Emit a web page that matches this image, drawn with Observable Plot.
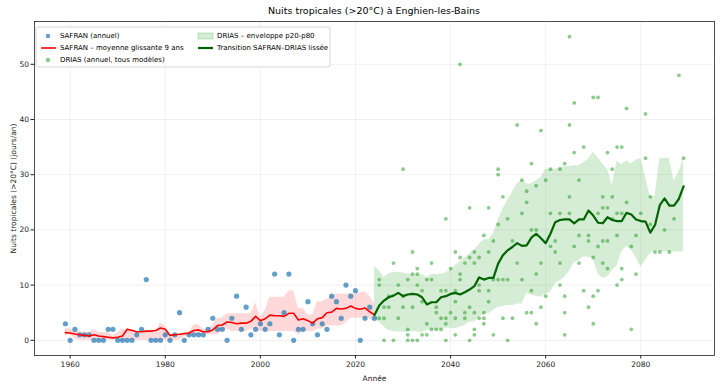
<!DOCTYPE html>
<html><head><meta charset="utf-8">
<script src="https://cdn.jsdelivr.net/npm/d3@7"></script>
<script src="https://cdn.jsdelivr.net/npm/@observablehq/plot@0.6"></script>
<style>
body{margin:0;background:#fff;}
#chart{position:relative;width:720px;height:387px;}
</style></head><body><div id="chart"></div>
<script>
// ---------- DATA ----------
const safranStart = 1959;
const safranValues = [3,0,2,1,1,1,0,0,0,2, 2,0,0,0,0,1,2,11,0,0, 0,1,0,1,5,0,1,1,1,1,
  2,4,2,2,0,4,8,2,6,1, 2,3,2,3,12,1,5,12,0,2, 2,7,3,1,3,2,8,7,4,10, 8,9,0,4,6,4];
// SAFRAN 9-year moving average (as drawn)
const safranMean = [1.4,1.33,1.14,1.0,0.89,0.78,1.0,0.78,0.67,0.56, 0.44,0.56,0.78,2.0,1.78,1.56,1.56,1.67,1.67,1.78,
  2.22,2.0,0.89,1.0,1.11,1.22,1.33,1.78,1.89,1.56, 1.56,1.89,2.67,2.78,3.33,3.22,3.0,3.11,3.11,3.44,
  4.33,3.56,3.89,4.56,4.44,4.44,4.33,4.89,4.89,3.67, 3.89,3.56,3.11,3.89,4.11,5.0,5.11,5.78,5.67,5.78,
  6.22,5.78,5.63,5.86,5.17,4.6];
const safranLow = [0.8,1,0.2,0,0,0,0,0,0,0, 0,0,0,0,0,0,0,0,0,0, 0,0,0,0,0,0.6,0.6,1,1,1,
  1,1,1,1.6,2,1.6,1.6,1.6,1.6,2, 2,1.6,1.6,1.6,1.6,1.6,1.6,1.6,1.6,1, 1.6,1.6,1.6,2,2,2.6,2.6,2.6,2.6,3.2,
  4,4,4,4,4,3.2];
const safranHigh = [2.2,2,1.8,1.6,1.4,1.4,2.0,1.4,1.4,1.4, 0.8,1.4,2.0,2.0,2.0,1.4,1.4,1.4,1.4,1.4,
  3.2,2.6,1,1,1,1,1.4,2.8,2.8,2.0, 2.0,2.8,4.0,4.0,4.8,4.8,4.8,4.8,4.8,4.8,
  6.8,4.2,5.4,7.8,7.8,7.8,7.8,9.0,9.0,5.8, 5.8,4.6,4.6,7,7,7.4,8,8.4,8.4,8.4, 8.4,8.4,8.6,8.8,8,6.6];

const driasStart = 2025;
const driasValues = [
  [11,10,4],[6,4,0],[8,6],[14,0],[10,4],[31,8,6],[11,2,1,0],[16,12,6,0],[13,12,10,0],[9,7,1],
  [11,3,1],[14,11,2],[6,5,2],[9,4,2],[22,9,4,3,0],[13,5],[16,9,7,4,1],[50,15,12,11],[14,5,4],[24,15,6,0],
  [16,14,5,2,1],[15,10,9,4],[19,5,4,3],[24,16,9,7],[18,11,1],[31,30,21,11],[26,11,4],[22,11,0],[18,4],[39,14],
  [29,23,11],[27,25,5],[32,20,9,5],[28,20,12,3],[38,14,6],[29,8],[31,23,17],[18,16],[31,23,14,10],[32,8,5,1],
  [55,39,26,23],[43,34,17],[29,19,14],[35,9],[19,18,6],[44,15,8,3],[44,23,17,9],[26,24,18,14],[34,24,18,13],[31,26,22],
  [35,23,19,10],[35,23,13,11],[42,25],[17,2],[19,12],[23],[41,33],[26,21],[16],[16],
  [20],[16],[22],[48],[33]
];

const bandStart = 2024;
const driasP20 = [3.8,3.3,2.4,1.8,1.6,1.5,1.5,1.4,1.6,1.5, 1.4,1.8,1.9,1.9,2.0,2.2,2.2,2.1,2.4,2.7,
  3.3,3.3,4.2,4.8,4.8,5.4,6.0,6.1,6.3,6.3, 6.6,6.6,8.5,8.2,8.0,7.8,8.3,8.7,10.2,10.8,
  11.4,12.5,14.0,14.5,15.1,15.0,14.8,12.0,11.2,11.5, 12.5,13.5,16.0,17.0,16.3,15.0,13.3,14.5,15.7,16.3,
  16.0,16.0,16.0,16.0,16.0,16.0];
const driasP80 = [13.3,12.7,11.4,12.0,12.3,12.3,12.2,12.0,11.9,11.9, 11.9,11.4,11.9,11.9,11.9,12.2,12.8,13.6,14.2,14.9,
  15.7,16.4,17.3,18.2,18.2,19.3,21.7,23.8,25.3,26.8, 28.3,29.0,28.3,28.3,28.9,29.5,31.0,31.0,31.0,31.3,
  31.4,31.5,31.6,31.6,32.2,32.8,34.0,33.1,31.9,31.0, 28.0,32.5,31.8,32.5,32.0,32.6,33.0,29.5,26.0,26.0,
  33.0,33.0,33.0,28.9,30.4,33.0];
const transition = [4.6,6.3,7.2,7.8,8.1,8.6,8.0,8.3,8.4,8.3, 7.8,6.5,6.9,6.9,7.8,8.0,8.4,8.6,8.3,8.7,
  9.2,9.8,11.4,11.0,11.3,11.3,13.9,15.4,16.3,16.9, 17.6,17.1,17.2,18.6,19.3,18.5,17.6,19.3,21.4,21.8,
  21.9,21.9,21.2,21.9,21.9,23.5,22.6,21.3,21.2,22.3, 21.8,21.6,21.6,23.1,22.8,21.9,21.6,21.5,19.5,20.9,
  24.5,25.7,24.4,24.4,25.6,27.9];

const xTicks = [1960,1980,2000,2020,2040,2060,2080];
const yTicks = [0,10,20,30,40,50];
const titleText = "Nuits tropicales (>20°C) à Enghien-les-Bains";
const xLabel = "Année";
const yLabel = "Nuits tropicales (>20°C) (jours/an)";
const legendItems = [
  {label:"SAFRAN (annuel)", kind:"dot", color:"#1f77b4", op:0.7, col:0, row:0},
  {label:"SAFRAN – moyenne glissante 9 ans", kind:"line", color:"red", op:1, col:0, row:1},
  {label:"DRIAS (annuel, tous modèles)", kind:"dot", color:"#2ca02c", op:0.55, col:0, row:2},
  {label:"DRIAS – enveloppe p20-p80", kind:"patch", color:"#2ca02c", op:0.2, col:1, row:0},
  {label:"Transition SAFRAN–DRIAS lissée", kind:"line", color:"darkgreen", op:1, col:1, row:1, w:2.2}
];

// ---------- TABLES ----------
const safran = safranValues.map((v,i)=>({year:safranStart+i, v, m:safranMean[i], lo:safranLow[i], hi:safranHigh[i]}));
const drias = driasValues.flatMap((vals,i)=>vals.map(v=>({year:driasStart+i, v})));
const band = driasP20.map((lo,i)=>({year:bandStart+i, lo, hi:driasP80[i], t:transition[i]}));

const plot = Plot.plot({
  width:720, height:387,
  marginLeft:34, marginRight:6, marginTop:21, marginBottom:32,
  style:{fontFamily:"'DejaVu Sans', sans-serif", fontSize:"7.5px", background:"#fff", color:"#222"},
  x:{domain:[1952.5,2095.5]},
  y:{domain:[-2.75,57.75]},
  marks:[
    Plot.gridX(xTicks,{stroke:"#000", strokeOpacity:0.08, strokeWidth:0.8}),
    Plot.gridY(yTicks,{stroke:"#000", strokeOpacity:0.08, strokeWidth:0.8}),
    Plot.areaY(safran,{x:"year", y1:"lo", y2:"hi", fill:"red", fillOpacity:0.15}),
    Plot.areaY(band,{x:"year", y1:"lo", y2:"hi", fill:"#2ca02c", fillOpacity:0.2}),
    Plot.dot(safran,{x:"year", y:"v", r:2.6, fill:"#1f77b4", fillOpacity:0.7}),
    Plot.dot(drias,{x:"year", y:"v", r:1.9, fill:"#2ca02c", fillOpacity:0.55}),
    Plot.lineY(safran,{x:"year", y:"m", stroke:"red", strokeWidth:1.6}),
    Plot.lineY(band,{x:"year", y:"t", stroke:"darkgreen", strokeWidth:2.2}),
    Plot.axisX({ticks:xTicks, tickFormat:d=>String(d), tickSize:3.5, tickPadding:3,
      label:xLabel, labelAnchor:"center", labelOffset:25, labelArrow:"none"}),
    Plot.axisY({ticks:yTicks, tickSize:3.5, tickPadding:2,
      label:yLabel, labelAnchor:"center", labelOffset:24, labelArrow:"none"}),
    Plot.frame({stroke:"#222", strokeWidth:0.8})
  ]
});
document.getElementById("chart").appendChild(plot);

// ---------- TITLE & LEGEND ----------
const svg = d3.select(plot);
svg.append("text").attr("x",374).attr("y",14).attr("text-anchor","middle")
  .attr("font-size","9.5px").attr("fill","#000").text(titleText);

const lg = svg.append("g").attr("font-size","7px").attr("fill","#000").attr("text-anchor","start");
lg.append("rect").attr("x",36).attr("y",27).attr("width",294).attr("height",40)
  .attr("rx",2).attr("fill","#fff").attr("fill-opacity",0.85).attr("stroke","#ccc").attr("stroke-width",0.8);
const colX = [41, 198], rowY = [36, 48, 60];
legendItems.forEach(it=>{
  const x0 = colX[it.col], y0 = rowY[it.row];
  if (it.kind==="dot") lg.append("circle").attr("cx",x0+7).attr("cy",y0).attr("r",2.2).attr("fill",it.color).attr("fill-opacity",it.op);
  if (it.kind==="line") lg.append("line").attr("x1",x0).attr("x2",x0+15).attr("y1",y0).attr("y2",y0).attr("stroke",it.color).attr("stroke-width",it.w||1.6);
  if (it.kind==="patch") lg.append("rect").attr("x",x0).attr("y",y0-3).attr("width",15).attr("height",6).attr("fill",it.color).attr("fill-opacity",it.op).attr("stroke",it.color).attr("stroke-opacity",0.25);
  lg.append("text").attr("x",x0+19).attr("y",y0).attr("dy","0.35em").attr("text-anchor","start").text(it.label);
});
</script></body></html>
